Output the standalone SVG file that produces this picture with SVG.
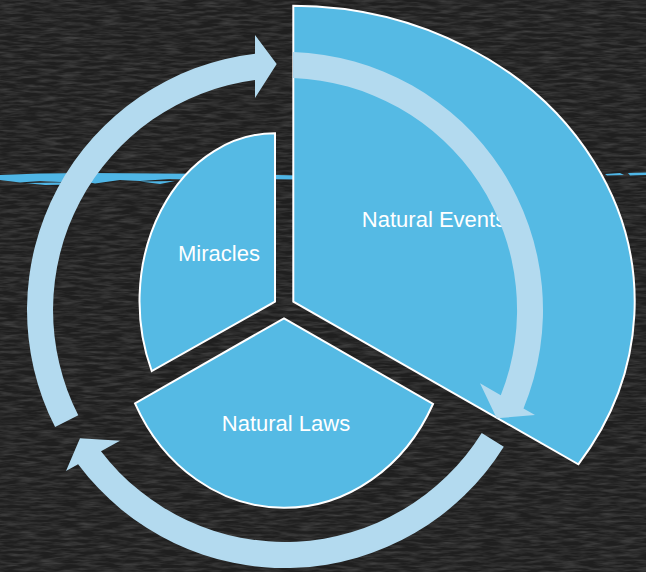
<svg xmlns="http://www.w3.org/2000/svg" width="646" height="572" viewBox="0 0 646 572">
  <style>
    .pie { fill: #55BAE4; stroke: #FFFFFF; stroke-width: 2; stroke-linejoin: miter; }
    .arrow { fill: #B3DAEF; stroke: none; }
    .label { fill: #FFFFFF; font-family: "Liberation Sans", Arial, sans-serif; font-size: 22px; text-anchor: middle; }
    .chalk { fill: #4FB6E6; }
  </style>
  <defs>
    <filter id="noise" x="0" y="0" width="100%" height="100%">
      <feTurbulence type="fractalNoise" baseFrequency="0.05 0.35" numOctaves="3" seed="7" result="t"/>
      <feColorMatrix in="t" type="matrix" values="0 0 0 0 1  0 0 0 0 1  0 0 0 0 1  0.3 0 0 0 -0.11"/>
    </filter>
  </defs>

  <g id="background">
    <rect x="0" y="0" width="646" height="572" fill="#1F1F1F"/>
    <rect x="0" y="0" width="646" height="572" filter="url(#noise)"/>
  </g>

  <g id="chalk-stripe">
    <path class="chalk" d="M0,175 L40,173.5 L90,173 L160,173.5 L230,174 L300,175.5 L300,179.5 L250,179 L200,180 L170,179 L140,181 L120,180 L95,183.5 L80,180.5 L60,182 L40,181 L20,182.5 L0,180 Z"/>
    <path class="chalk" d="M25,183 L60,182.5 L75,184.5 L45,185 Z"/>
    <path class="chalk" d="M140,181.5 L175,181 L160,184 Z"/>
    <path class="chalk" d="M605,174 L620,173 L624,175 L607,175.5 Z"/>
    <path class="chalk" d="M628,173 L646,172.5 L646,175 L630,175.5 Z"/>
  </g>

  <g id="node-natural-events">
    <path class="pie" d="M293.3,301.7 L293.3,5.7 A343 296 0 0 1 578.3,464.3 Z"/>
    <text class="label" x="434" y="226.5">Natural Events</text>
  </g>

  <g id="node-miracles">
    <path class="pie" d="M275,301.7 L275,133.3 A135 168 0 0 0 151.7,371 Z"/>
    <text class="label" x="219" y="260.5">Miracles</text>
  </g>

  <g id="node-natural-laws">
    <path class="pie" d="M284,318.3 L433,404 A167 190 0 0 1 135,403.3 Z"/>
    <text class="label" x="286" y="431">Natural Laws</text>
  </g>

  <g id="connectors">
    <path class="arrow" d="M55.1,427.1 A258 258 0 0 1 255,53.8 L255,35 L276.7,64 L255,98 L255,80 A232 232 0 0 0 78.3,415.3 Z"/>
    <path class="arrow" d="M293,52.1 A258 258 0 0 1 523.5,408.4 L535,415 L496.7,418.3 L480,383.3 L500.8,395.3 A232 232 0 0 0 293,78.1 Z"/>
    <path class="arrow" d="M503.8,446.7 A258 258 0 0 1 78.1,464.2 L66,471 L80,438.3 L120,440.7 L101,451.3 A232 232 0 0 0 481.7,432.9 Z"/>
  </g>
</svg>
